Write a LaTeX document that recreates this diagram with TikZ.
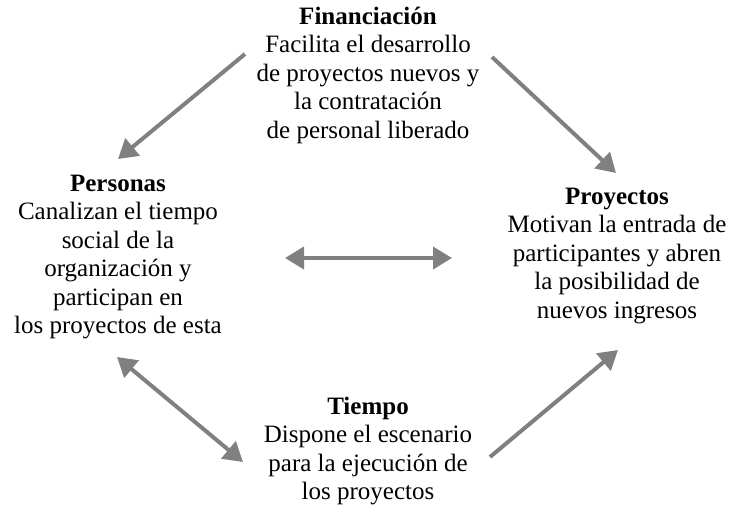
\documentclass[tikz,border=0pt]{standalone}
\usepackage{fontspec}
\setmainfont{Liberation Serif}
\usetikzlibrary{arrows.meta}
\definecolor{arrowgray}{HTML}{808080}
\begin{document}
\begin{tikzpicture}[x=1pt,y=-1pt,
  txt/.style={align=center,inner sep=0pt,font=\fontsize{25}{28.5}\selectfont},
  conn/.style={draw=arrowgray,line width=4pt,-{Triangle[length=19pt,width=22pt]}},
  dconn/.style={draw=arrowgray,line width=4pt,{Triangle[length=19pt,width=22pt]}-{Triangle[length=19pt,width=22pt]}}]
\useasboundingbox (0,0) rectangle (732,509);
\node[txt] (fin) at (368,75) {\textbf{Financiación}\\Facilita el desarrollo\\de proyectos nuevos y\\la contratación\\de personal liberado};
\node[txt] (per) at (118,257) {\textbf{Personas}\\Canalizan el tiempo\\social de la\\organización y\\participan en\\los proyectos de esta};
\node[txt] (pro) at (617,256) {\textbf{Proyectos}\\Motivan la entrada de\\participantes y abren\\la posibilidad de\\nuevos ingresos};
\node[txt] (tie) at (368,451) {\textbf{Tiempo}\\Dispone el escenario\\para la ejecución de\\los proyectos};
\coordinate (a1s) at (245,54);
\coordinate (a1e) at (118,159);
\coordinate (a2s) at (492,57);
\coordinate (a2e) at (616,173);
\coordinate (a3s) at (285,258);
\coordinate (a3e) at (452,258);
\coordinate (a4s) at (117,357);
\coordinate (a4e) at (243,462);
\coordinate (a5s) at (490,457);
\coordinate (a5e) at (618,350);
\draw[conn] (a1s) -- (a1e);
\draw[conn] (a2s) -- (a2e);
\draw[dconn] (a3s) -- (a3e);
\draw[dconn] (a4s) -- (a4e);
\draw[conn] (a5s) -- (a5e);
\end{tikzpicture}
\end{document}
